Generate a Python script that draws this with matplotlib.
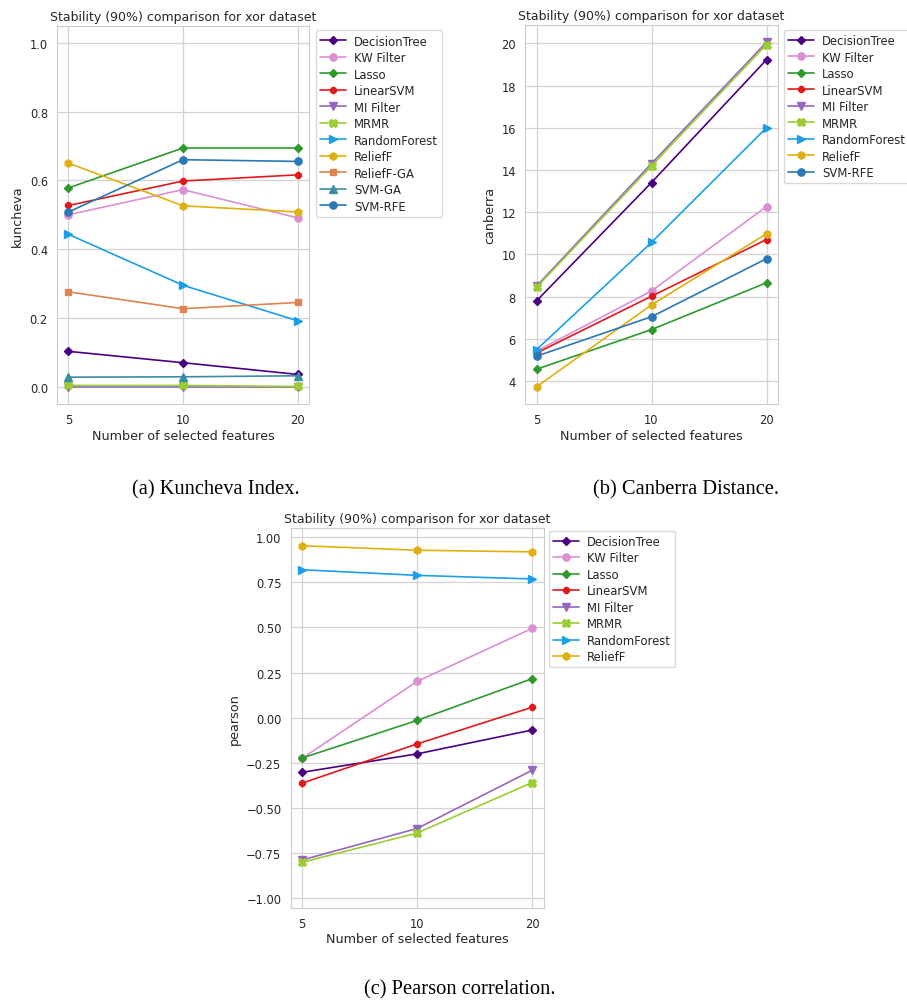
import matplotlib
matplotlib.use("Agg")
import matplotlib.pyplot as plt
import seaborn as sns

sns.set_style("whitegrid")
plt.rcParams["font.family"] = ["DejaVu Sans"]

# x positions are categorical: 5, 10, 20 features
n_features = ["5", "10", "20"]
xpos = [0, 1, 2]

# stability values
kuncheva = {
    "DecisionTree": [0.103, 0.070, 0.036],
    "KW Filter": [0.500, 0.573, 0.491],
    "Lasso": [0.578, 0.694, 0.694],
    "LinearSVM": [0.527, 0.598, 0.616],
    "MI Filter": [0.000, 0.000, 0.000],
    "MRMR": [0.004, 0.004, 0.001],
    "RandomForest": [0.443, 0.295, 0.192],
    "ReliefF": [0.650, 0.526, 0.508],
    "ReliefF-GA": [0.276, 0.227, 0.245],
    "SVM-GA": [0.028, 0.029, 0.032],
    "SVM-RFE": [0.508, 0.660, 0.655],
}
canberra = {
    "DecisionTree": [7.80, 13.41, 19.23],
    "KW Filter": [5.42, 8.27, 12.27],
    "Lasso": [4.56, 6.44, 8.66],
    "LinearSVM": [5.33, 8.02, 10.71],
    "MI Filter": [8.50, 14.31, 20.06],
    "MRMR": [8.44, 14.20, 19.95],
    "RandomForest": [5.49, 10.57, 16.01],
    "ReliefF": [3.73, 7.61, 10.98],
    "SVM-RFE": [5.18, 7.05, 9.80],
}
pearson = {
    "DecisionTree": [-0.302, -0.200, -0.068],
    "KW Filter": [-0.225, 0.201, 0.494],
    "Lasso": [-0.223, -0.015, 0.216],
    "LinearSVM": [-0.362, -0.145, 0.058],
    "MI Filter": [-0.787, -0.613, -0.291],
    "MRMR": [-0.800, -0.638, -0.359],
    "RandomForest": [0.819, 0.788, 0.768],
    "ReliefF": [0.952, 0.927, 0.918],
}

styles = {
    "DecisionTree": ("#4b0082", "D", 4.5),
    "KW Filter": ("#dc8fd2", "o", 5.2),
    "Lasso": ("#2e9a2e", "D", 4.5),
    "LinearSVM": ("#e0191c", "8", 5.2),
    "MI Filter": ("#9467bd", "v", 5.5),
    "MRMR": ("#9acd32", "X", 5.8),
    "RandomForest": ("#1a9fe8", ">", 5.5),
    "ReliefF": ("#dfb012", "h", 5.4),
    "ReliefF-GA": ("#dd8452", "s", 5),
    "SVM-GA": ("#3b8ca0", "^", 5.5),
    "SVM-RFE": ("#2a78b5", "o", 5.2),
}

title = "Stability (90%) comparison for xor dataset"
text_col = "#262626"

fig = plt.figure(figsize=(9.07, 10.03), dpi=100)
W, H = 907, 1003


def px(x, y):
    return (x / W, 1 - y / H)


def px_axes(left, top, right, bottom):
    return fig.add_axes([left / W, 1 - bottom / H, (right - left) / W, (bottom - top) / H])


def draw_panel(ax, data, ylabel, legend_anchor):
    for name, vals in data.items():
        col, mk, ms = styles[name]
        ax.plot(xpos, vals, color=col, marker=mk, markersize=ms, linewidth=1.2, label=name)
    ax.set_xticks(xpos)
    ax.set_xticklabels(n_features)
    ax.tick_params(labelsize=8.3, colors=text_col, pad=3)
    ax.set_xlabel("Number of selected features", fontsize=9.2, color=text_col, labelpad=2)
    ax.set_ylabel(ylabel, fontsize=9.2, color=text_col, labelpad=4)
    ax.set_title(title, fontsize=9, color=text_col, pad=4)
    for sp in ax.spines.values():
        sp.set_color("#cccccc")
    ax.grid(color="#d3d3d3", linewidth=0.9)
    leg = ax.legend(loc="upper left", bbox_to_anchor=legend_anchor, borderaxespad=0,
                    fontsize=8.4, frameon=True, handlelength=2.2, labelspacing=0.3,
                    handletextpad=0.7, borderpad=0.35)
    for t in leg.get_texts():
        t.set_color(text_col)
    leg.get_frame().set_edgecolor("#d0d0d0")


ax_a = px_axes(57, 26.5, 309, 405)
draw_panel(ax_a, kuncheva, "kuncheva", (1.028, 0.987))
ax_a.set_ylim(-0.05, 1.05)
ax_a.set_yticks([0.0, 0.2, 0.4, 0.6, 0.8, 1.0])

ax_b = px_axes(525, 26, 778, 405)
draw_panel(ax_b, canberra, "canberra", (1.024, 0.987))
ax_b.set_yticks([4, 6, 8, 10, 12, 14, 16, 18, 20])

ax_c = px_axes(290.5, 529, 543.5, 908.5)
draw_panel(ax_c, pearson, "pearson", (1.022, 0.993))
ax_c.set_ylim(-1.05, 1.05)
ax_c.set_yticks([-1.0, -0.75, -0.5, -0.25, 0.0, 0.25, 0.5, 0.75, 1.0])
ax_c.set_yticklabels(["\u22121.00", "\u22120.75", "\u22120.50", "\u22120.25", "0.00",
                      "0.25", "0.50", "0.75", "1.00"])

cap_kw = dict(fontsize=14.8, family="Liberation Serif", color="black", ha="center", va="center")
fig.text(*px(216, 490), "(a) Kuncheva Index.", **cap_kw)
fig.text(*px(686, 490), "(b) Canberra Distance.", **cap_kw)
fig.text(*px(460, 990), "(c) Pearson correlation.", **cap_kw)

fig.savefig("out.png", dpi=100)
